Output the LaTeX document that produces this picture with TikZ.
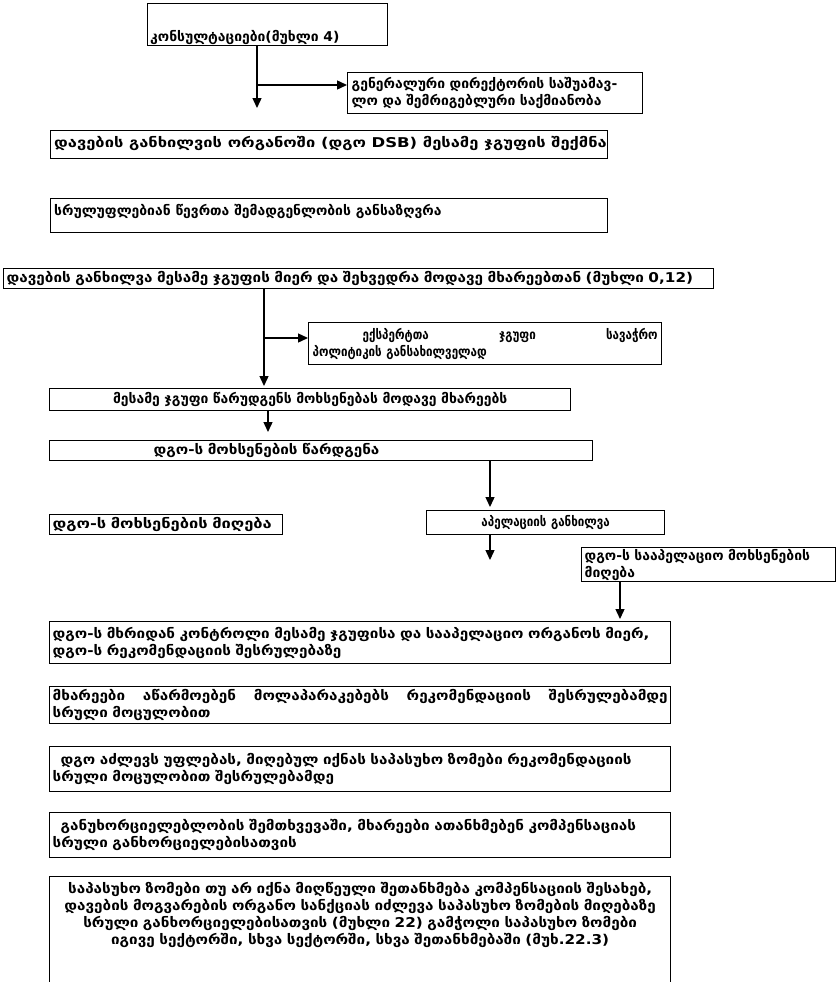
\documentclass[tikz,border=0pt]{standalone}
\usepackage{fontspec}
\setmainfont{DejaVu Sans}
\newfontfamily\geoX{DejaVu Sans}[FakeStretch=1.22]
\newfontfamily\geoW{DejaVu Sans}[FakeStretch=1.13]
\newfontfamily\geoM{DejaVu Sans}[FakeStretch=1.03]
\newfontfamily\geoS{DejaVu Sans}[FakeStretch=0.86]
\usetikzlibrary{arrows.meta}
\newcommand{\gsz}{\bfseries\fontsize{13.5}{17}\selectfont}
\tikzset{
  box/.style={draw, line width=1.4pt, anchor=north west, inner sep=0pt},
  xwide/.style={font=\geoX\gsz},
  wide/.style={font=\geoW\gsz},
  mid/.style={font=\geoM\gsz},
  narrow/.style={font=\geoS\gsz},
  txt/.style={inner sep=0pt},
  arr/.style={line width=1.4pt, -{Triangle[length=10pt,width=9pt]}}
}
\begin{document}
\begin{tikzpicture}[x=1pt,y=-1pt]
\useasboundingbox (0,0) rectangle (837,982);
% boxes
\node[box, minimum width=240pt, minimum height=42pt] (b1) at (147,3) {};
\node[txt, mid, anchor=base west] (b1t) at ([xshift=3pt,yshift=5pt]b1.south west) {კონსულტაციები(მუხლი 4)};
\node[box, mid, minimum width=295pt, minimum height=41pt, text width=287pt, align=left] (b2) at (347,72) {გენერალური დირექტორის საშუამავ-\\ლო და შემრიგებლური საქმიანობა};
\node[box, minimum width=557pt, minimum height=28pt] (b3) at (50,130) {};
\node[txt, xwide, anchor=north west] (b3t) at ([xshift=4pt,yshift=-6pt]b3.north west) {დავების განხილვის ორგანოში (დგო DSB) მესამე ჯგუფის შექმნა};
\node[box, minimum width=557pt, minimum height=34pt] (b4) at (50,198) {};
\node[txt, mid, anchor=north west] (b4t) at ([xshift=4pt,yshift=-6pt]b4.north west) {სრულუფლებიან წევრთა შემადგენლობის განსაზღვრა};
\node[box, wide, minimum width=710pt, minimum height=20pt, text width=704pt, align=left] (b5) at (3,268) {დავების განხილვა მესამე ჯგუფის მიერ და შეხვედრა მოდავე მხარეებთან (მუხლი 0,12)};
\node[box, narrow, minimum width=353pt, minimum height=42pt, text width=345pt, align=left] (b6) at (308,322) {\hspace*{50pt}ექსპერტთა\hfill ჯგუფი\hfill სავაჭრო\\პოლიტიკის განსახილველად};
\node[box, mid, minimum width=521pt, minimum height=22pt, text width=513pt, align=center] (b7) at (49,388) {მესამე ჯგუფი წარუდგენს მოხსენებას მოდავე მხარეებს};
\node[box, wide, minimum width=543pt, minimum height=20pt, text width=535pt, align=left] (b8) at (49,440) {\hspace*{100pt}დგო-ს მოხსენების წარდგენა};
\node[box, xwide, minimum width=233pt, minimum height=20pt, text width=227pt, align=left] (b9) at (49,514) {დგო-ს მოხსენების მიღება};
\node[box, narrow, minimum width=238pt, minimum height=24pt, text width=230pt, align=center] (b10) at (426,510) {აპელაციის განხილვა};
\node[box, mid, minimum width=254pt, minimum height=34pt, text width=248pt, align=left] (b11) at (581,547) {დგო-ს სააპელაციო მოხსენების\\მიღება};
\node[box, wide, minimum width=621pt, minimum height=42pt, text width=615pt, align=left] (b12) at (49,621) {დგო-ს მხრიდან კონტროლი მესამე ჯგუფისა და სააპელაციო ორგანოს მიერ,\\დგო-ს რეკომენდაციის შესრულებაზე};
\node[box, wide, minimum width=621pt, minimum height=37pt, text width=615pt, align=left] (b13) at (49,686) {მხარეები\hfill აწარმოებენ\hfill მოლაპარაკებებს\hfill რეკომენდაციის\hfill შესრულებამდე\\სრული მოცულობით};
\node[box, wide, minimum width=621pt, minimum height=45pt, text width=615pt, align=left] (b14) at (49,746) {\hspace*{8pt}დგო აძლევს უფლებას, მიღებულ იქნას საპასუხო ზომები რეკომენდაციის\\სრული მოცულობით შესრულებამდე};
\node[box, wide, minimum width=621pt, minimum height=45pt, text width=615pt, align=left] (b15) at (49,812) {\hspace*{8pt}განუხორციელებლობის შემთხვევაში, მხარეები ათანხმებენ კომპენსაციას\\სრული განხორციელებისათვის};
\node[box, minimum width=621pt, minimum height=120pt] (b16) at (49,876) {};
\node[txt, wide, anchor=north, text width=615pt, align=center] (b16t) at ([yshift=-6pt]b16.north) {საპასუხო ზომები თუ არ იქნა მიღწეული შეთანხმება კომპენსაციის შესახებ,\\დავების მოგვარების ორგანო სანქციას იძლევა საპასუხო ზომების მიღებაზე\\სრული განხორციელებისათვის (მუხლი 22) გამჭოლი საპასუხო ზომები\\იგივე სექტორში, სხვა სექტორში, სხვა შეთანხმებაში (მუხ.22.3)};
% connectors
\coordinate (t1) at (257,108);
\coordinate (j1) at (257,85);
\draw[arr] (b1.south -| t1) -- (t1);
\draw[arr] (j1) -- (j1 -| b2.west);
\coordinate (j2) at (264,338);
\draw[arr] (b5.south -| j2) -- ([yshift=2pt]b7.north -| j2);
\draw[arr] (j2) -- (j2 -| b6.west);
\coordinate (t4) at (268,432);
\draw[arr] (b7.south -| t4) -- (t4);
\coordinate (j5) at (490,480);
\draw[arr] (b8.south -| j5) -- ([yshift=3pt]b10.north -| j5);
\coordinate (t6) at (490,560);
\draw[arr] (b10.south -| t6) -- (t6);
\coordinate (j7) at (620,600);
\draw[arr] (b11.south -| j7) -- ([yshift=2pt]b12.north -| j7);
\end{tikzpicture}
\end{document}
